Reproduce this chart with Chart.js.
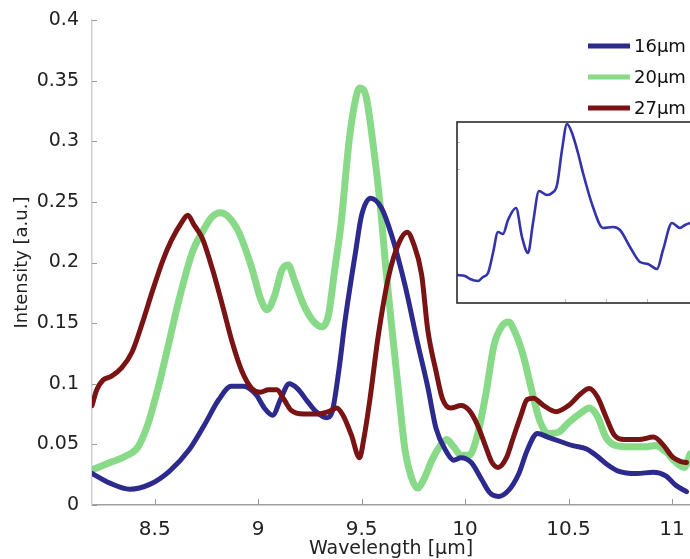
<!DOCTYPE html>
<html>
<head>
<meta charset="utf-8">
<script src="https://cdn.jsdelivr.net/npm/chart.js@4.4.1/dist/chart.umd.min.js"></script>
<style>
  html, body { margin: 0; padding: 0; background: #fff; overflow: hidden; }
  #wrap { position: relative; width: 690px; height: 559px; overflow: hidden; }
  #main { position: absolute; left: 0; top: 0; }
  #inset { position: absolute; left: 456px; top: 121px; }
</style>
</head>
<body>
<div id="wrap">
  <canvas id="main" width="690" height="559"></canvas>
  <canvas id="inset" width="270" height="183"></canvas>
</div>
<script>
// 16um (blue)
const wl16 = [8.197, 8.284, 8.38, 8.476, 8.572, 8.668, 8.74, 8.81, 8.87, 8.93, 8.99, 9.03, 9.07, 9.11, 9.15, 9.19,
  9.24, 9.28, 9.33, 9.356, 9.39, 9.42, 9.47, 9.5, 9.543, 9.596, 9.644, 9.71, 9.77, 9.82, 9.86, 9.91, 9.945, 9.98,
  10.03, 10.08, 10.12, 10.16, 10.21, 10.26, 10.3, 10.35, 10.4, 10.45, 10.52, 10.59, 10.64, 10.69, 10.74, 10.83,
  10.91, 10.97, 11.02, 11.07];
const int16 = [0.026, 0.018, 0.013, 0.017, 0.028, 0.046, 0.066, 0.087, 0.098, 0.098, 0.091, 0.08, 0.074, 0.088, 0.1, 0.096,
  0.085, 0.077, 0.072, 0.076, 0.111, 0.152, 0.208, 0.239, 0.253, 0.245, 0.223, 0.181, 0.134, 0.097, 0.063, 0.044, 0.037, 0.039,
  0.035, 0.021, 0.01, 0.007, 0.012, 0.026, 0.045, 0.059, 0.056, 0.053, 0.049, 0.046, 0.04, 0.033, 0.028, 0.026,
  0.027, 0.024, 0.016, 0.011];

// 20um (green)
const wl20 = [8.197, 8.284, 8.356, 8.42, 8.466, 8.514, 8.558, 8.62, 8.683, 8.73, 8.774, 8.817, 8.86, 8.909, 8.97, 9.014,
  9.043, 9.08, 9.115, 9.144, 9.178, 9.22, 9.27, 9.308, 9.34, 9.37, 9.4, 9.44, 9.47, 9.49, 9.52, 9.55, 9.59, 9.62,
  9.65, 9.68, 9.71, 9.74, 9.77, 9.8, 9.84, 9.88, 9.91, 9.945, 9.98, 10.02, 10.06, 10.1, 10.14, 10.18, 10.21, 10.24,
  10.28, 10.32, 10.36, 10.4, 10.45, 10.5, 10.56, 10.6, 10.64, 10.68, 10.73, 10.8, 10.87, 10.92, 10.97, 11.02, 11.06, 11.087];
const int20 = [0.029, 0.035, 0.04, 0.048, 0.066, 0.095, 0.126, 0.171, 0.209, 0.225, 0.237, 0.241, 0.237, 0.224, 0.195, 0.169,
  0.161, 0.173, 0.194, 0.198, 0.184, 0.165, 0.151, 0.147, 0.157, 0.194, 0.231, 0.301, 0.334, 0.344, 0.338, 0.305, 0.247, 0.19,
  0.14, 0.091, 0.045, 0.023, 0.014, 0.021, 0.037, 0.049, 0.054, 0.048, 0.041, 0.041, 0.058, 0.091, 0.132, 0.148, 0.151, 0.143,
  0.124, 0.096, 0.07, 0.059, 0.06, 0.068, 0.076, 0.08, 0.073, 0.056, 0.049, 0.048, 0.048, 0.049, 0.044, 0.035, 0.031, 0.042];

// 27um (dark red)
const wl27 = [8.197, 8.22, 8.25, 8.29, 8.34, 8.39, 8.44, 8.49, 8.54, 8.58, 8.63, 8.66, 8.69, 8.73, 8.78, 8.83, 8.875,
  8.92, 8.97, 9.01, 9.05, 9.09, 9.125, 9.16, 9.22, 9.28, 9.34, 9.38, 9.41, 9.45, 9.49, 9.51, 9.54, 9.58, 9.63, 9.68,
  9.72, 9.75, 9.79, 9.82, 9.86, 9.89, 9.93, 9.98, 10.02, 10.06, 10.1, 10.13, 10.16, 10.2, 10.23, 10.27, 10.3, 10.33,
  10.38, 10.44, 10.5, 10.56, 10.6, 10.64, 10.68, 10.72, 10.77, 10.84, 10.91, 10.96, 11.0, 11.04, 11.07];
const int27 = [0.082, 0.095, 0.103, 0.106, 0.113, 0.126, 0.15, 0.177, 0.202, 0.218, 0.233, 0.239, 0.231, 0.22, 0.194, 0.163, 0.134,
  0.111, 0.096, 0.093, 0.095, 0.095, 0.087, 0.078, 0.075, 0.075, 0.077, 0.08, 0.074, 0.058, 0.039, 0.054, 0.087, 0.139, 0.188, 0.216,
  0.225, 0.216, 0.19, 0.144, 0.11, 0.088, 0.08, 0.082, 0.078, 0.066, 0.048, 0.035, 0.031, 0.039, 0.054, 0.074, 0.087, 0.088,
  0.082, 0.077, 0.082, 0.092, 0.096, 0.089, 0.073, 0.058, 0.054, 0.054, 0.056, 0.049, 0.04, 0.036, 0.035];

const seriesLabels = ['16\u03bcm', '20\u03bcm', '27\u03bcm'];
const xTicks = [8.5, 9, 9.5, 10, 10.5, 11];
const xTickLabels = ['8.5', '9', '9.5', '10', '10.5', '11'];
const yTicks = [0, 0.05, 0.1, 0.15, 0.2, 0.25, 0.3, 0.35, 0.4];
const yTickLabels = ['0', '0.05', '0.1', '0.15', '0.2', '0.25', '0.3', '0.35', '0.4'];

// inset trace (arbitrary units of the inset box)
const insetX = [0, 0.8, 1.3, 2.1, 2.6, 3.1, 3.6, 4.1, 4.6, 5.1, 5.9, 6.5, 7.1, 7.6, 8.2, 9.0, 9.5, 10.0, 10.5, 11.0,
  11.5, 12.1, 12.6, 13.6, 14.6, 15.6, 16.3, 17.3, 18.3, 19.1, 20.0, 20.6, 21.5, 22.3, 22.8, 23.3];
const insetY = [2.7, 2.6, 2.3, 2.1, 2.5, 2.9, 4.9, 7.0, 6.8, 8.2, 9.4, 6.5, 4.9, 7.9, 11.1, 10.7, 10.9, 11.7, 15.2, 17.8,
  16.9, 14.9, 12.9, 9.5, 7.4, 7.5, 7.2, 5.5, 4.0, 3.8, 3.3, 5.2, 7.9, 7.4, 7.7, 7.9];
const insetXTicks = [10.8, 14.9, 19.0];
const insetYTicks = [16.0, 13.3];

const toPts = (xs, ys) => xs.map((x, i) => ({ x: x, y: ys[i] }));

const innerTicks = {
  id: 'innerTicks',
  afterDatasetsDraw(chart) {
    const { ctx, chartArea: a, scales: { x, y } } = chart;
    ctx.save();
    ctx.strokeStyle = '#9a9a9a';
    ctx.lineWidth = 1;
    ctx.beginPath();
    x.ticks.forEach(t => {
      const px = Math.round(x.getPixelForValue(t.value)) + 0.5;
      ctx.moveTo(px, a.bottom);
      ctx.lineTo(px, a.bottom - 6);
    });
    y.ticks.forEach(t => {
      const py = Math.round(y.getPixelForValue(t.value)) + 0.5;
      ctx.moveTo(a.left, py);
      ctx.lineTo(a.left + 5, py);
    });
    ctx.stroke();
    ctx.restore();
  }
};

// legend in the upper right, drawn from the datasets
const cornerLegend = {
  id: 'cornerLegend',
  afterDraw(chart) {
    const ctx = chart.ctx;
    ctx.save();
    ctx.font = '18px "DejaVu Sans"';
    ctx.textBaseline = 'middle';
    chart.data.datasets.forEach((ds, i) => {
      const ly = 46 + i * 31;
      ctx.strokeStyle = ds.borderColor;
      ctx.lineWidth = 5;
      ctx.beginPath();
      ctx.moveTo(588, ly);
      ctx.lineTo(630, ly);
      ctx.stroke();
      ctx.fillStyle = '#111';
      ctx.fillText(ds.label, 634, ly + 1);
    });
    ctx.restore();
  }
};

new Chart(document.getElementById('main'), {
  type: 'line',
  data: {
    datasets: [
      { label: seriesLabels[0], data: toPts(wl16, int16), borderColor: '#2d2a8e', borderWidth: 5, order: 2 },
      { label: seriesLabels[1], data: toPts(wl20, int20), borderColor: '#88da88', borderWidth: 7, order: 3 },
      { label: seriesLabels[2], data: toPts(wl27, int27), borderColor: '#7a1414', borderWidth: 5, order: 1 }
    ]
  },
  options: {
    responsive: false,
    animation: false,
    elements: { point: { radius: 0 }, line: { cubicInterpolationMode: 'monotone', borderCapStyle: 'round', borderJoinStyle: 'round' } },
    layout: { padding: { top: 20, right: 0, left: 0, bottom: 0 } },
    plugins: { legend: { display: false }, tooltip: { enabled: false } },
    scales: {
      x: {
        type: 'linear',
        min: 8.197,
        max: 11.087,
        afterBuildTicks: s => { s.ticks = xTicks.map(v => ({ value: v })); },
        afterFit: s => { s.height = 54; },
        grid: { display: false },
        border: { color: '#a0a0a0', width: 1.5 },
        ticks: {
          autoSkip: false, maxRotation: 0, padding: 5, color: '#222',
          font: { family: 'DejaVu Sans', size: 20 },
          callback: (v, i) => xTickLabels[i]
        },
        title: {
          display: true, text: 'Wavelength [\u03bcm]', color: '#222',
          font: { family: 'DejaVu Sans', size: 19, lineHeight: 1 },
          padding: { top: 0, bottom: 0.5 }
        }
      },
      y: {
        min: 0,
        max: 0.4,
        afterBuildTicks: s => { s.ticks = yTicks.map(v => ({ value: v })); },
        afterFit: s => { s.width = 92; },
        grid: { display: false },
        border: { color: '#cfcfcf', width: 1.5 },
        ticks: {
          padding: 5, color: '#222',
          font: { family: 'DejaVu Sans', size: 19 },
          callback: (v, i) => yTickLabels[i]
        },
        title: {
          display: true, text: 'Intensity [a.u.]', color: '#222',
          font: { family: 'DejaVu Sans', size: 18, lineHeight: 1.2 },
          padding: { top: 12, bottom: 0 }
        }
      }
    }
  },
  plugins: [innerTicks, cornerLegend]
});

const insetFrame = {
  id: 'insetFrame',
  afterDraw(chart) {
    const { ctx, chartArea: a, scales: { x, y } } = chart;
    ctx.save();
    ctx.strokeStyle = '#bbb';
    ctx.lineWidth = 1;
    ctx.beginPath();
    insetXTicks.forEach(v => {
      const px = Math.round(x.getPixelForValue(v)) + 0.5;
      ctx.moveTo(px, a.bottom);
      ctx.lineTo(px, a.bottom - 4);
    });
    insetYTicks.forEach(v => {
      const py = Math.round(y.getPixelForValue(v)) + 0.5;
      ctx.moveTo(a.left, py);
      ctx.lineTo(a.left + 3, py);
    });
    ctx.stroke();
    ctx.strokeStyle = '#2a2a2a';
    ctx.lineWidth = 1.6;
    ctx.strokeRect(a.left, a.top, a.right - a.left, a.bottom - a.top);
    ctx.restore();
  }
};

new Chart(document.getElementById('inset'), {
  type: 'line',
  data: {
    datasets: [{ data: toPts(insetX, insetY), borderColor: '#3333aa', borderWidth: 2.6, pointRadius: 0, cubicInterpolationMode: 'monotone' }]
  },
  options: {
    responsive: false,
    animation: false,
    layout: { padding: 1 },
    plugins: { legend: { display: false }, tooltip: { enabled: false } },
    scales: {
      x: { type: 'linear', min: 0, max: 26.8, display: false },
      y: { min: -0.1, max: 18, display: false }
    }
  },
  plugins: [insetFrame]
});
</script>
</body>
</html>
